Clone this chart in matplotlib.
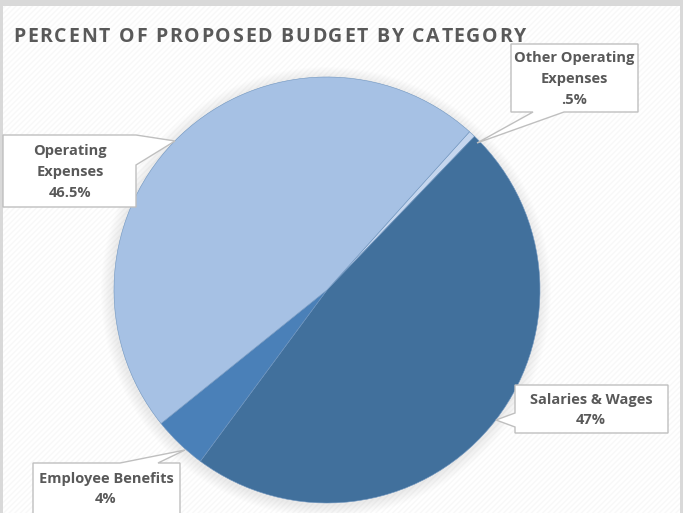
import matplotlib
matplotlib.use("Agg")
import matplotlib.pyplot as plt
from matplotlib.patches import Polygon, Rectangle, Circle

# Budget share by category (percent, as labelled)
categories = ["Other Operating\nExpenses", "Salaries & Wages", "Employee Benefits", "Operating\nExpenses"]
shares = [0.5, 47, 4, 46.5]
share_labels = [".5%", "47%", "4%", "46.5%"]
colors = ["#C5D6EE", "#41709C", "#4A80B8", "#A6C1E4"]
title = "PERCENT OF PROPOSED BUDGET BY CATEGORY"

W, H = 683, 513
TEXT = "#595959"
FONT = "Open Sans"


def py(y):
    # pixel rows run downward; axes y runs upward
    return H - y


fig = plt.figure(figsize=(W / 100, H / 100), dpi=100, facecolor="#D9D9D9")
ax = fig.add_axes([0, 0, 1, 1])

# chart area
ax.add_patch(Rectangle((3, 0), W - 6, H - 6, facecolor="white", edgecolor="none", zorder=0))
ax.add_patch(Rectangle((3, 0), W - 6, H - 6, facecolor="none", edgecolor="#F8F8F8",
                       hatch="//////", linewidth=0, zorder=0))

cx, cy, r = 327, py(290), 213

# soft shadow under the pie
for i in range(10):
    ax.add_patch(Circle((cx - 1, cy - 2), r + 12 - i * 1.2, facecolor="#000000", alpha=0.009,
                        edgecolor="none", zorder=1))

ax.pie(shares, colors=colors, startangle=48, counterclock=False, center=(cx, cy), radius=r,
       wedgeprops=dict(edgecolor="#6f95bf", linewidth=0.4), frame=True)
ax.set_xlim(0, W)
ax.set_ylim(0, H)
ax.set_aspect("equal")
ax.axis("off")

# title with extra letter spacing, placed one glyph at a time
renderer = fig.canvas.get_renderer()
title_kw = dict(fontsize=14, fontweight="bold", color=TEXT, family=FONT, va="center")


def text_width(s):
    t = ax.text(0, 0, s + "|", **title_kw)
    w = t.get_window_extent(renderer).width
    t.remove()
    return w


bar_w = text_width("")
tracking = 1.75
for i, ch in enumerate(title):
    x = 13 + (text_width(title[:i]) - bar_w) + i * tracking
    ax.text(x, py(37), ch, ha="left", **title_kw)


def callout(pts, text_xy, text):
    poly = Polygon([(x, py(y)) for x, y in pts], closed=True, facecolor="white",
                   edgecolor="#BFBFBF", linewidth=1.0, zorder=5)
    ax.add_patch(poly)
    ax.text(text_xy[0], py(text_xy[1]), text, ha="center", va="center", fontsize=10.5,
            fontweight="bold", color=TEXT, family=FONT, linespacing=1.6, zorder=6)


# Other Operating Expenses: pointer from bottom edge
callout([(511, 44), (638, 44), (638, 112), (564, 112), (477, 143), (533, 112), (511, 112)],
        (574, 79), f"{categories[0]}\n{share_labels[0]}")
# Salaries & Wages: pointer from left edge
callout([(515, 385), (668, 385), (668, 433), (515, 433), (515, 427), (496, 420), (515, 413)],
        (591, 410), f"{categories[1]}\n{share_labels[1]}")
# Employee Benefits: pointer from top edge
callout([(33, 463), (120, 463), (185, 450), (158, 463), (180, 463), (180, 520), (33, 520)],
        (106, 489), f"{categories[2]}\n{share_labels[2]}")
# Operating Expenses: pointer from right edge
callout([(3, 135), (136, 135), (175, 141), (136, 165), (136, 207), (3, 207)],
        (70, 172), f"{categories[3]}\n{share_labels[3]}")

fig.savefig("out.png", dpi=100, facecolor=fig.get_facecolor())
